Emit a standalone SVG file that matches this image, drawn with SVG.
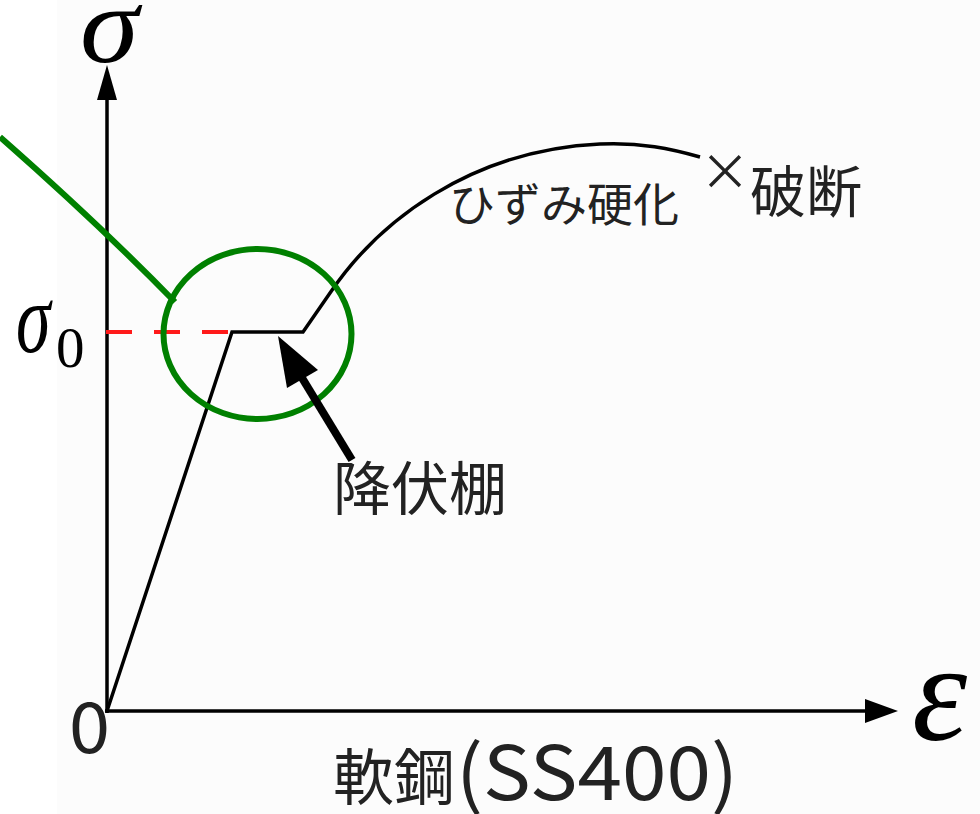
<svg xmlns="http://www.w3.org/2000/svg" width="980" height="814" viewBox="0 0 980 814">
<defs>
<style>
.jp{font-family:"Noto Sans CJK JP","Noto Sans",sans-serif;fill:#222}
.math{font-family:"Liberation Serif","DejaVu Serif",serif;font-style:italic;fill:#000}
.ax{stroke:#000;stroke-width:3.5;fill:none}
.curve{stroke:#000;stroke-width:3.5;fill:none;stroke-linejoin:miter}
</style>
</defs>
<rect x="0" y="0" width="980" height="814" fill="#fff"/>
<rect x="57" y="0" width="923" height="814" fill="#fcfcfc"/>
<g id="axes">
<line class="ax" x1="107" y1="95" x2="107" y2="713"/>
<polygon points="107,65 97,100 117,100" fill="#000"/>
<line class="ax" x1="105" y1="711" x2="868" y2="711"/>
<polygon points="898,711 865,699 865,723" fill="#000"/>
</g>
<g id="labels-axes">
<text class="math" transform="translate(80,62) scale(1.08,1)" font-size="110">σ</text>
<text class="math" transform="translate(16,352) scale(0.7,1)" font-size="100">σ</text>
<text x="56" y="367" font-family="Liberation Serif,serif" font-size="57" fill="#000">0</text>
<text class="jp" x="69" y="753" font-size="70" textLength="41" lengthAdjust="spacingAndGlyphs">0</text>
<text class="math" x="912" y="740" font-size="140">ε</text>
</g>
<g id="yield-line">
<line x1="106" y1="332" x2="232" y2="332" stroke="#ff1a1a" stroke-width="4" stroke-dasharray="26,22"/>
</g>
<g id="stress-strain-curve">
<path class="curve" d="M107,711 L232,332 L303,332 L330,293 C378,222 470,150 600,144 C640,142 672,149 700,157"/>
</g>
<g id="highlight">
<ellipse cx="257.5" cy="334" rx="94" ry="85" fill="none" stroke="#008000" stroke-width="6"/>
<path d="M0,137 Q100,225 175,302" fill="none" stroke="#008000" stroke-width="6"/>
</g>
<g id="connectors">
<line x1="352" y1="460" x2="296" y2="368" stroke="#000" stroke-width="8"/>
<polygon points="278,336 287,388 318,370" fill="#000"/>
</g>
<g id="node-yield-plateau">
<text class="jp" x="333" y="510" font-size="58">降伏棚</text>
</g>
<g id="node-hardening">
<text class="jp" x="449" y="221" font-size="46">ひずみ硬化</text>
</g>
<g id="node-fracture">
<text class="jp" x="700" y="190" font-size="50">×</text>
<text class="jp" x="750" y="212" font-size="56">破断</text>
</g>
<g id="node-title">
<text class="jp" x="333" y="800" font-size="61">軟鋼<tspan x="456" font-size="75" textLength="282" lengthAdjust="spacingAndGlyphs">(SS400)</tspan></text>
</g>
</svg>
